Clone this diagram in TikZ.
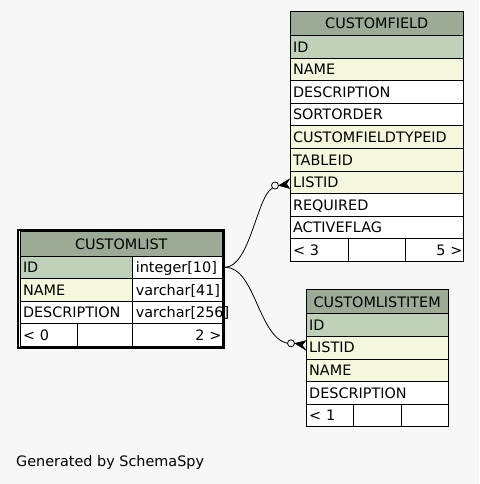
\documentclass[tikz,border=0pt]{standalone}
\usepackage{fontspec}
\newfontfamily\dvfont{DejaVu Sans}
\usetikzlibrary{calc}
\definecolor{bg}{HTML}{F7F7F7}
\definecolor{hdr}{HTML}{9BAB96}
\definecolor{pk}{HTML}{BED1B8}
\definecolor{idx}{HTML}{F5F8DC}
\tikzset{
  cell/.style={draw=black, line width=1pt, anchor=north west, inner xsep=3pt, inner ysep=0pt,
    text height=10.5pt, text depth=0pt, font=\dvfont\fontsize{14.4}{17}\selectfont,
    minimum height=22.6pt, fill=white, align=left},
  hcell/.style={cell, fill=hdr, align=center, minimum height=24pt},
  pkc/.style={cell, fill=pk},
  idxc/.style={cell, fill=idx},
  rcell/.style={cell, align=right, inner xsep=1pt},
  circ/.style={circle, draw=black, line width=0.8pt, minimum size=7pt, inner sep=0pt, fill=bg},
  conn/.style={draw=black, line width=0.8pt},
  crowf/.style={fill=black, draw=black, line width=0.5pt, line join=miter},
}
\begin{document}
\begin{tikzpicture}[x=1pt,y=-1pt]
\fill[bg] (0,0) rectangle (479,484);
\useasboundingbox (0,0) rectangle (479,484);

% CUSTOMFIELD
\node[hcell, text width=167.5pt] (cf) at (289.5,11) {CUSTOMFIELD};
\node[pkc, text width=167.5pt] (cf-id) at (289.5,35) {ID};
\node[idxc, text width=167.5pt] (cf-name) at (289.5,57.6) {NAME};
\node[cell, text width=167.5pt] (cf-desc) at (289.5,80.2) {DESCRIPTION};
\node[cell, text width=167.5pt] (cf-sort) at (289.5,102.8) {SORTORDER};
\node[idxc, text width=167.5pt] (cf-type) at (289.5,125.4) {CUSTOMFIELDTYPEID};
\node[idxc, text width=167.5pt] (cf-table) at (289.5,148) {TABLEID};
\node[idxc, text width=167.5pt] (cf-listid) at (289.5,170.6) {LISTID};
\node[cell, text width=167.5pt] (cf-req) at (289.5,193.2) {REQUIRED};
\node[cell, text width=167.5pt] (cf-act) at (289.5,215.8) {ACTIVEFLAG};
\node[cell, text width=52.8pt] (cf-f1) at (289.5,238.4) {< 3};
\node[cell, text width=51pt] (cf-f2) at (348.3,238.4) {};
\node[rcell, text width=55.7pt] (cf-f3) at (405.3,238.4) {5 >};

% CUSTOMLIST
\node[draw=black, line width=2pt, anchor=north west, minimum width=206pt, minimum height=117.7pt, inner sep=0pt] (cl-frame) at (17,229.3) {};
\node[hcell, text width=196.5pt, minimum height=24.5pt] (cl) at (19.5,231) {CUSTOMLIST};
\node[pkc, text width=106.8pt] (cl-id) at (19.5,255.5) {ID};
\node[cell, text width=83.7pt] (cl-id-t) at (132.3,255.5) {integer[10]};
\node[idxc, text width=106.8pt] (cl-name) at (19.5,278) {NAME};
\node[cell, text width=83.7pt] (cl-name-t) at (132.3,278) {varchar[41]};
\node[cell, text width=106.8pt] (cl-desc) at (19.5,300.5) {DESCRIPTION};
\node[cell, text width=83.7pt] (cl-desc-t) at (132.3,300.5) {varchar[256]};
\node[cell, text width=51.2pt] (cl-f1) at (19.5,323) {< 0};
\node[cell, text width=49.6pt] (cl-f2) at (76.7,323) {};
\node[rcell, text width=87.7pt] (cl-f3) at (132.3,323) {2 >};

% CUSTOMLISTITEM
\node[hcell, text width=136pt] (cli) at (305.7,289.3) {CUSTOMLISTITEM};
\node[pkc, text width=136pt] (cli-id) at (305.7,313.3) {ID};
\node[idxc, text width=136pt] (cli-listid) at (305.7,335.9) {LISTID};
\node[idxc, text width=136pt] (cli-name) at (305.7,358.5) {NAME};
\node[cell, text width=136pt] (cli-desc) at (305.7,381.1) {DESCRIPTION};
\node[cell, text width=41.6pt] (cli-f1) at (305.7,403.7) {< 1};
\node[cell, text width=41.4pt] (cli-f2) at (353.3,403.7) {};
\node[cell, text width=41pt] (cli-f3) at (400.7,403.7) {};

% connectors
\coordinate (src) at ([xshift=2pt]cl-id-t.east);
\node[circ] (cf-o) at (275,185.5) {};
\node[circ] (cli-o) at (291,343.3) {};
\draw[conn] (src) .. controls (250,266.8) and (257,196) .. (cf-o.225);
\draw[conn] (src) .. controls (255,266.8) and (258,336) .. (cli-o.west);
\fill[crowf] (cf-o.east) -- ($(cf-listid.west)+(0,-3.5)$) -- ($(cf-listid.west)+(-3,1.5)$) -- ($(cf-listid.west)+(0,6)$) -- cycle;
\fill[crowf] (cli-o.east) -- ($(cli-listid.west)+(0,-7)$) -- ($(cli-listid.west)+(-3.5,-2.5)$) -- ($(cli-listid.west)+(0,2.3)$) -- cycle;

\node[anchor=base west, inner sep=0pt, font=\dvfont\fontsize{14.4}{17}\selectfont] (gen) at (16,466) {Generated by SchemaSpy};
\end{tikzpicture}
\end{document}
